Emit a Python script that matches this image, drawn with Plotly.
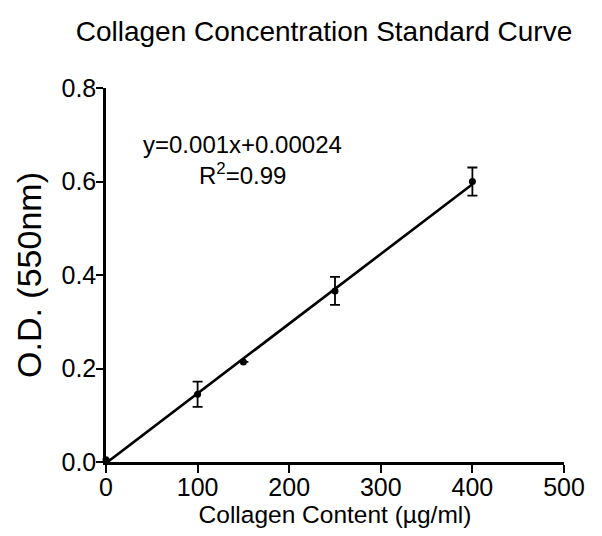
import numpy as np
import plotly.graph_objects as go

conc = [0, 100, 150, 250, 400]
od = [0.005, 0.145, 0.214, 0.366, 0.600]
od_err = [0.0, 0.027, 0.0, 0.030, 0.030]

x_ticks = [0, 100, 200, 300, 400, 500]
y_ticks = [0.0, 0.2, 0.4, 0.6, 0.8]

slope, intercept = np.polyfit(conc, od, 1)
fit_x = [min(conc), max(conc)]
fit_y = [slope * v + intercept for v in fit_x]

FONT = "Liberation Sans, Arial, sans-serif"

fig = go.Figure()
fig.add_trace(go.Scatter(
    x=fit_x, y=fit_y, mode="lines",
    line=dict(color="black", width=2.6),
    hoverinfo="skip", showlegend=False, cliponaxis=False,
))
fig.add_trace(go.Scatter(
    x=conc, y=od, mode="markers",
    marker=dict(color="black", size=7),
    error_y=dict(type="data", array=od_err, visible=True,
                 color="black", thickness=1.8, width=5),
    showlegend=False, cliponaxis=False,
))

fig.update_layout(
    width=602, height=536,
    margin=dict(l=106, r=38, t=88, b=74),
    paper_bgcolor="white", plot_bgcolor="white",
    font=dict(family=FONT, color="black"),
    title=dict(text="Collagen Concentration Standard Curve",
               x=324 / 602, xref="container", xanchor="center",
               y=1 - 31 / 536, yref="container", yanchor="middle",
               font=dict(size=28, family=FONT, color="black")),
    xaxis=dict(range=[0, 500], tickvals=x_ticks, showgrid=False, zeroline=False,
               showline=True, linecolor="black", linewidth=2.5,
               ticks="outside", ticklen=8, tickwidth=2, tickcolor="black",
               ticklabelstandoff=-7,
               tickfont=dict(size=25, family=FONT),
               title=dict(text="Collagen Content (µg/ml)", standoff=4,
                          font=dict(size=24.5, family=FONT))),
    yaxis=dict(range=[0, 0.8], tickvals=y_ticks, tickformat=".1f",
               showgrid=False, zeroline=False,
               showline=True, linecolor="black", linewidth=2.5,
               ticks="outside", ticklen=7, tickwidth=2, tickcolor="black",
               ticklabelstandoff=-5,
               tickfont=dict(size=25, family=FONT),
               title=dict(text="O.D. (550nm)", standoff=10,
                          font=dict(size=34, family=FONT))),
    annotations=[
        dict(text="y=0.001x+0.00024", x=149.5, y=0.68, xref="x", yref="y",
             showarrow=False, font=dict(size=24, family=FONT, color="black")),
        dict(text="R<sup>2</sup>=0.99", x=149.5, y=0.617, xref="x", yref="y",
             showarrow=False, font=dict(size=24, family=FONT, color="black")),
    ],
)

fig.write_html("out.html")
